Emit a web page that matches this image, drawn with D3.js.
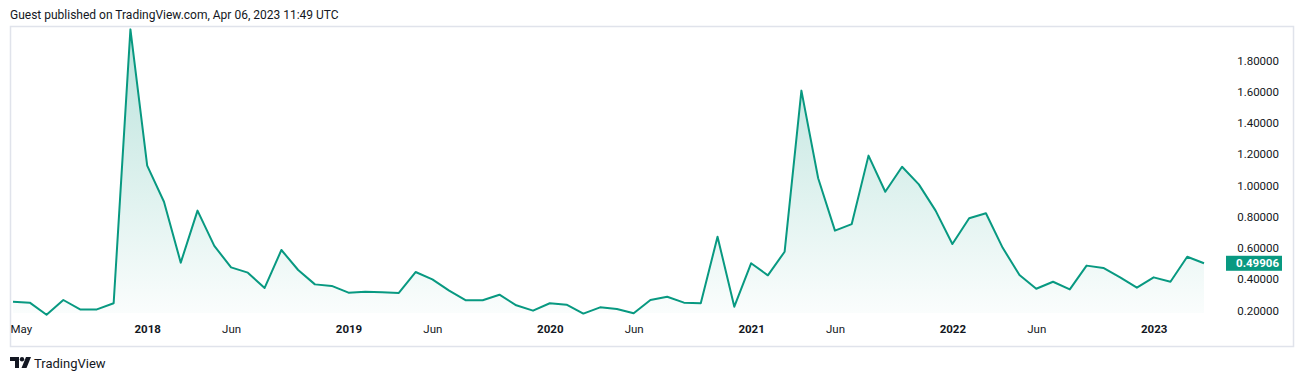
<!DOCTYPE html>
<html><head><meta charset="utf-8">
<script src="https://cdn.jsdelivr.net/npm/d3@7/dist/d3.min.js"></script>
<style>
html,body{margin:0;padding:0;background:#fff;}
svg{display:block;}
text{font-family:Roboto,"Noto Sans",sans-serif;}
</style></head>
<body>
<svg id="c" width="1304" height="382"></svg>
<script>
// Monthly values, May 2017 .. Apr 2023
const months = ["2017-05","2017-06","2017-07","2017-08","2017-09","2017-10","2017-11","2017-12",
"2018-01","2018-02","2018-03","2018-04","2018-05","2018-06","2018-07","2018-08","2018-09","2018-10","2018-11","2018-12",
"2019-01","2019-02","2019-03","2019-04","2019-05","2019-06","2019-07","2019-08","2019-09","2019-10","2019-11","2019-12",
"2020-01","2020-02","2020-03","2020-04","2020-05","2020-06","2020-07","2020-08","2020-09","2020-10","2020-11","2020-12",
"2021-01","2021-02","2021-03","2021-04","2021-05","2021-06","2021-07","2021-08","2021-09","2021-10","2021-11","2021-12",
"2022-01","2022-02","2022-03","2022-04","2022-05","2022-06","2022-07","2022-08","2022-09","2022-10","2022-11","2022-12",
"2023-01","2023-02","2023-03","2023-04"];
const values = [0.253,0.247,0.170,0.264,0.204,0.204,0.243,1.996,
1.124,0.893,0.503,0.836,0.610,0.473,0.439,0.341,0.584,0.456,0.364,0.354,
0.311,0.317,0.313,0.309,0.443,0.396,0.324,0.262,0.262,0.298,0.230,0.196,
0.243,0.234,0.177,0.217,0.206,0.179,0.264,0.285,0.247,0.243,0.669,0.221,
0.499,0.422,0.573,1.604,1.043,0.708,0.750,1.188,0.957,1.117,1.004,0.836,
0.622,0.787,0.819,0.598,0.424,0.336,0.381,0.332,0.484,0.469,0.409,0.343,
0.409,0.381,0.541,0.49906];
const timeTickMonths = ["2017-05","2018-01","2018-06","2019-01","2019-06","2020-01","2020-06","2021-01","2021-06","2022-01","2022-06","2023-01"];
const timeTickLabels = ["May","2018","Jun","2019","Jun","2020","Jun","2021","Jun","2022","Jun","2023"];
const priceTicks = [0.2,0.4,0.6,0.8,1.0,1.2,1.4,1.6,1.8];
const lastPrice = "0.49906";
const headerText = "Guest published on TradingView.com, Apr 06, 2023 11:49 UTC";

const svg = d3.select("#c");
const green = "#089981";

const x = d3.scaleLinear().domain([0, months.length-1]).range([13, 1204]);
const y = d3.scaleLinear().domain([0.2, 1.8]).range([310, 60]);

// header
svg.append("text").attr("x",10).attr("y",18.5).attr("font-size",12).attr("fill","#131722").text(headerText);

// pane border
svg.append("rect").attr("x",10.5).attr("y",26.5).attr("width",1283).attr("height",320)
  .attr("fill","#fff").attr("stroke","#e0e3eb").attr("stroke-width",1.5);

// gradient
const defs = svg.append("defs");
const g = defs.append("linearGradient").attr("id","ag").attr("x1",0).attr("y1",0).attr("x2",0).attr("y2",1)
  .attr("gradientUnits","userSpaceOnUse").attr("x1",0).attr("y1",y(1.996)).attr("x2",0).attr("y2",313);
g.append("stop").attr("offset","0%").attr("stop-color",green).attr("stop-opacity",0.28);
g.append("stop").attr("offset","100%").attr("stop-color",green).attr("stop-opacity",0.02);

const area = d3.area().x((d,i)=>x(i)).y0(313).y1(d=>y(d));
svg.append("path").datum(values).attr("d",area).attr("fill","url(#ag)");
const line = d3.line().x((d,i)=>x(i)).y(d=>y(d));
svg.append("path").datum(values).attr("d",line).attr("fill","none").attr("stroke",green)
  .attr("stroke-width",2).attr("stroke-linejoin","round");

// price axis
const yAxis = d3.axisRight(y).tickValues(priceTicks).tickFormat(d3.format(".5f")).tickSize(0);
const ya = svg.append("g").attr("transform","translate(1279,0)").call(yAxis);
ya.select(".domain").remove();
ya.selectAll("text").attr("x",0).attr("text-anchor","end").attr("font-size",11.5)
  .attr("font-family","Roboto,'Noto Sans',sans-serif").attr("fill","#131722").attr("dy","0.35em");

// last price label
const lp = svg.append("g");
lp.append("rect").attr("x",1226).attr("y",y(+lastPrice)-7.5).attr("width",56).attr("height",15).attr("fill",green);
lp.append("text").attr("x",1279).attr("y",y(+lastPrice)).attr("dy","0.36em").attr("text-anchor","end")
  .attr("font-size",11.5).attr("font-weight","bold").attr("fill","#fff").text(lastPrice);

// time axis
const tickIdx = timeTickMonths.map(m=>months.indexOf(m));
const xAxis = d3.axisBottom(x).tickValues(tickIdx).tickFormat((d,i)=>timeTickLabels[i]).tickSize(0);
const xa = svg.append("g").attr("transform","translate(0,325)").call(xAxis);
xa.select(".domain").remove();
xa.selectAll("text").attr("y",0).attr("dy","0.71em").attr("font-size",11.5)
  .attr("font-family","Roboto,'Noto Sans',sans-serif").attr("fill","#131722")
  .attr("font-weight",(d,i)=>/^\d{4}$/.test(timeTickLabels[i])?"bold":"normal");
xa.selectAll("text").filter((d,i)=>i===0).attr("text-anchor","start").attr("x",-3);

// logo
const logo = svg.append("g").attr("fill","#131722");
logo.append("path").attr("d","M10 357 h9 v11 h-4 v-7 h-5 z");
logo.append("circle").attr("cx",22).attr("cy",359.2).attr("r",2.2);
logo.append("path").attr("d","M26 357 h5 l-4.5 11 h-5 z");
svg.append("text").attr("x",34).attr("y",367.5).attr("font-size",13).attr("fill","#131722").text("TradingView");
</script>
</body></html>
